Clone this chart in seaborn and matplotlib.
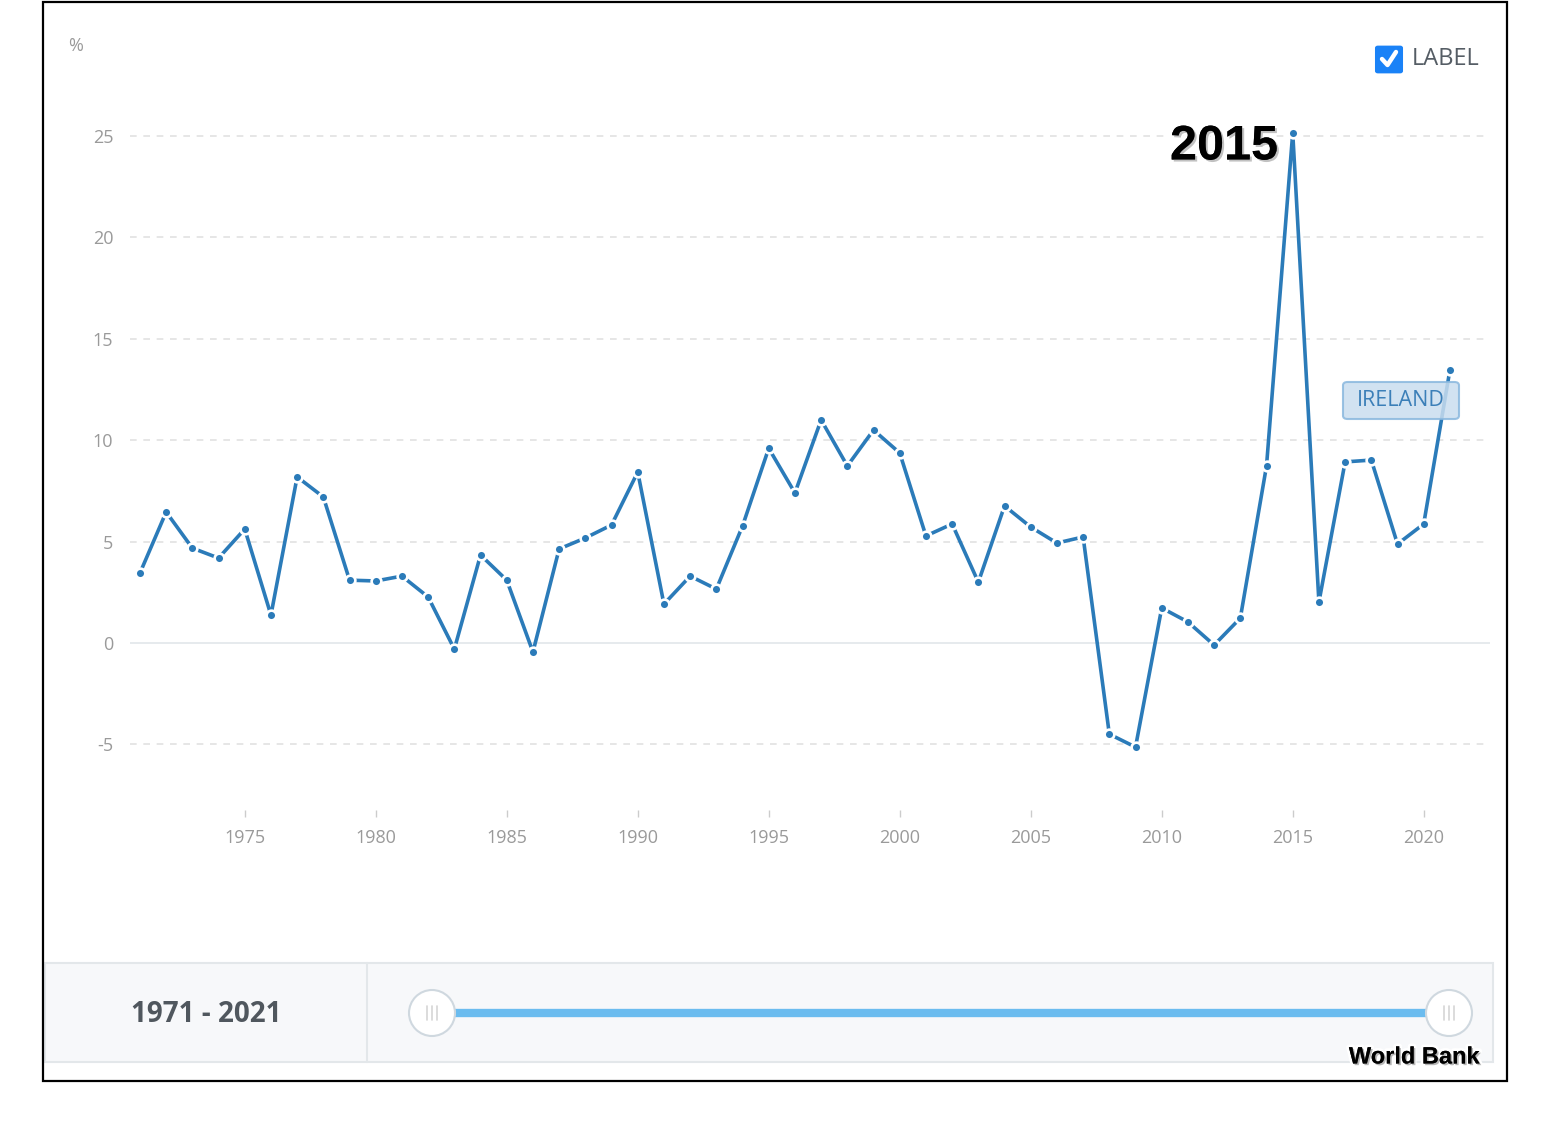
import numpy as np
import matplotlib
matplotlib.use("Agg")
import matplotlib.pyplot as plt
import matplotlib.patheffects as pe
from matplotlib.patches import Rectangle, FancyBboxPatch, Ellipse
from matplotlib.lines import Line2D
import seaborn as sns

# Ireland GDP growth (annual %)
years = list(range(1971, 2022))
growth = [3.45, 6.46, 4.68, 4.19, 5.62, 1.38, 8.19, 7.20, 3.10, 3.06,
          3.30, 2.27, -0.30, 4.34, 3.10, -0.44, 4.64, 5.18, 5.82, 8.43,
          1.92, 3.30, 2.66, 5.77, 9.60, 7.40, 11.00, 8.73, 10.50, 9.37,
          5.28, 5.87, 3.00, 6.76, 5.72, 4.93, 5.23, -4.49, -5.13, 1.73,
          1.04, -0.10, 1.23, 8.73, 25.15, 2.02, 8.93, 9.02, 4.88, 5.87,
          13.46]
y_ticks = [-5, 0, 5, 10, 15, 20, 25]
x_ticks = [1975, 1980, 1985, 1990, 1995, 2000, 2005, 2010, 2015, 2020]
country = "IRELAND"
peak_label = "2015"
range_label = "1971 - 2021"
source_label = "World Bank"

W, H = 1550, 1124
LINE = "#2b7bb9"

sns.set_style("white")
plt.rcParams["font.family"] = ["Open Sans", "DejaVu Sans"]


def fx(px):
    return px / W


def fy(py):
    return 1 - py / H


fig = plt.figure(figsize=(W / 100, H / 100), dpi=100)
ax = fig.add_axes([fx(130), fy(810), fx(1490) - fx(130), fy(100) - fy(810)])

sns.lineplot(x=years, y=growth, ax=ax, color=LINE, linewidth=2.6,
             marker="o", markersize=7, markerfacecolor=LINE,
             markeredgecolor="white", markeredgewidth=1.9, zorder=3)

ax.set_xlim(1970.62, 2022.53)
ax.set_ylim(-8.23, 26.77)
for v in y_ticks:
    if v == 0:
        ax.axhline(v, color="#e4e8ec", lw=1.3, zorder=1)
    else:
        ax.axhline(v, color="#e2e2e2", lw=1.2, ls=(0, (4, 4)), zorder=1)

ax.set_yticks(y_ticks)
ax.set_yticklabels([str(v) for v in y_ticks])
ax.set_xticks(x_ticks)
ax.set_xticklabels([str(v) for v in x_ticks])
ax.tick_params(axis="y", length=0, pad=12, labelsize=13, labelcolor="#9a9a9a")
ax.tick_params(axis="x", length=5, width=1, color="#cccccc", direction="out",
               pad=9, labelsize=13, labelcolor="#9a9a9a", bottom=True)
for s in ax.spines.values():
    s.set_visible(False)
ax.set_xlabel("")
ax.set_ylabel("")

# unit label and legend checkbox
fig.text(fx(76), fy(46), "%", ha="center", va="center", fontsize=13, color="#9a9a9a")
fig.patches.append(FancyBboxPatch((fx(1378), fy(71)), fx(22), fy(48) - fy(71),
                                  boxstyle="round,pad=0.0015", transform=fig.transFigure,
                                  facecolor="#1a82f7", edgecolor="#1a82f7"))
fig.lines.append(Line2D([fx(1382), fx(1387.5), fx(1396)], [fy(59), fy(65), fy(52)],
                        transform=fig.transFigure, color="white", lw=3.2,
                        solid_capstyle="round", solid_joinstyle="round"))
fig.text(fx(1412), fy(59), "LABEL", ha="left", va="center", fontsize=17, color="#555d65")

# peak year label
fig.text(fx(1278), fy(147), peak_label, ha="right", va="center", fontsize=35,
         fontweight="bold", family=["Liberation Sans", "DejaVu Sans"], color="black",
         path_effects=[pe.withStroke(linewidth=6, foreground="white"),
                       pe.SimplePatchShadow(offset=(1.5, -1.5), shadow_rgbFace="#999999", alpha=0.6),
                       pe.Normal()])

# country tag
fig.patches.append(FancyBboxPatch((fx(1343), fy(419)), fx(1459) - fx(1343), fy(382) - fy(419),
                                  boxstyle="round,pad=0,rounding_size=0.003",
                                  transform=fig.transFigure, facecolor="#c9ddef",
                                  edgecolor="#8ab8de", lw=1.5, alpha=0.85, zorder=5))
fig.text(fx(1401), fy(401), country, ha="center", va="center", fontsize=15.5,
         color="#3b7fb8", zorder=6)

# range slider panel
fig.patches.append(Rectangle((fx(45), fy(1062)), fx(1493) - fx(45), fy(963) - fy(1062),
                             transform=fig.transFigure, facecolor="#f7f8fa",
                             edgecolor="#e3e7ea", lw=1.5, zorder=1))
fig.lines.append(Line2D([fx(367), fx(367)], [fy(963), fy(1062)],
                        transform=fig.transFigure, color="#e3e7ea", lw=1.5, zorder=2))
fig.text(fx(206), fy(1015), range_label, ha="center", va="center", fontsize=20,
         fontweight="bold", color="#50575e")
fig.lines.append(Line2D([fx(432), fx(1449)], [fy(1013), fy(1013)],
                        transform=fig.transFigure, color="#6bbcef", lw=6, zorder=2))
for hx in (432, 1449):
    fig.patches.append(Ellipse((fx(hx), fy(1013)), 46 / W, 46 / H, transform=fig.transFigure,
                               facecolor="white", edgecolor="#cfd8df", lw=1.5, zorder=3))
    for dx in (-5, 0, 5):
        fig.lines.append(Line2D([fx(hx + dx), fx(hx + dx)], [fy(1006), fy(1020)],
                                transform=fig.transFigure, color="#d5d5d5", lw=1.2, zorder=4))

fig.text(fx(1480), fy(1057), source_label, ha="right", va="center", fontsize=17,
         fontweight="bold", family=["Liberation Sans", "DejaVu Sans"], color="black",
         path_effects=[pe.withStroke(linewidth=4, foreground="white"),
                       pe.SimplePatchShadow(offset=(1.2, -1.2), shadow_rgbFace="#888888", alpha=0.6),
                       pe.Normal()])

# outer frame
fig.patches.append(Rectangle((fx(43), fy(1081)), fx(1507) - fx(43), fy(2) - fy(1081),
                             transform=fig.transFigure, facecolor="none",
                             edgecolor="black", lw=1.6, zorder=5))

fig.savefig("out.png", dpi=100)
